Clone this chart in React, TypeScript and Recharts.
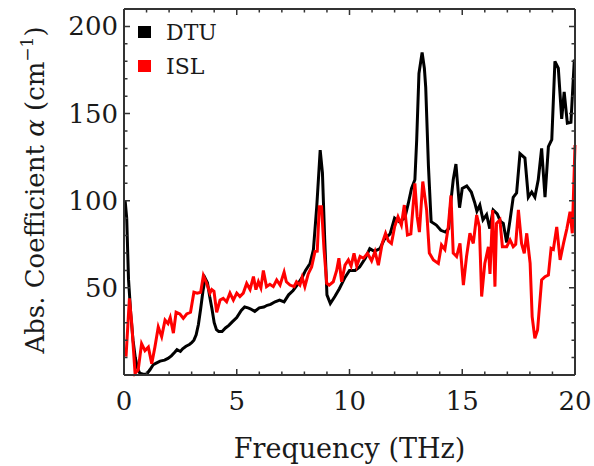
import React from 'react'
import { Legend, Line, LineChart, XAxis, YAxis } from 'recharts'

// DTU curve (frequency in THz, absorption coefficient in cm^-1)
const dtuFreq = [
  0.05, 0.12, 0.2, 0.3, 0.4, 0.5, 0.6, 0.7, 0.85, 1.0, 1.15, 1.3, 1.45, 1.6, 1.8, 1.95, 2.1, 2.25, 2.35,
  2.5, 2.6, 2.75, 2.9, 3.0, 3.1, 3.2, 3.3, 3.4, 3.5, 3.6, 3.7, 3.8, 3.9, 4.0, 4.1, 4.2, 4.35, 4.5, 4.65,
  4.8, 5.0, 5.2, 5.35, 5.5, 5.6, 5.8, 6.0, 6.2, 6.35, 6.5, 6.7, 6.9, 7.1, 7.3, 7.5, 7.7, 7.9, 8.05, 8.25,
  8.4, 8.55, 8.7, 8.8, 8.9, 9.0, 9.15, 9.35, 9.55, 9.8, 10.0, 10.25, 10.45, 10.7, 10.9, 11.1, 11.35,
  11.55, 11.8, 12.0, 12.2, 12.45, 12.6, 12.75, 12.9, 12.98, 13.08, 13.22, 13.32, 13.38, 13.5, 13.62,
  13.85, 14.05, 14.25, 14.4, 14.5, 14.6, 14.72, 14.88, 15.0, 15.2, 15.4, 15.55, 15.65, 15.78, 15.92,
  16.08, 16.22, 16.37, 16.55, 16.7, 16.82, 16.97, 17.12, 17.26, 17.41, 17.56, 17.78, 17.93, 18.08,
  18.22, 18.37, 18.52, 18.67, 18.82, 18.97, 19.11, 19.26, 19.41, 19.52, 19.66, 19.82, 19.97,
]
const dtuAlpha = [
  100, 90, 55, 35, 20, 10, 4, 1, 0.5, 0.5, 3, 6, 7, 8, 8.5, 9.5, 11, 13, 14.5,
  13.5, 15, 16.5, 17.5, 18.5, 20, 23, 29, 38, 48, 55.5, 53, 45, 38, 30, 26, 25, 25, 27, 28.5,
  30.5, 33, 37, 39, 38.5, 38, 36.5, 38.5, 39, 40, 40.5, 42, 43, 42, 46, 48.5, 52, 56, 60, 64,
  72, 97, 129, 116, 78, 46, 41, 45, 49.5, 56, 60, 60, 62, 67, 72.5, 71, 72.5,
  78, 81, 90, 88, 90, 98, 107, 112, 135, 173, 185, 176, 165, 120, 88,
  86, 83, 82, 84, 100, 112, 121, 96, 107, 108.5, 105, 99, 94, 97.5, 89,
  92, 84, 94.7, 92.5, 88, 87, 76, 89, 102, 104.5, 127, 124.5, 102, 105,
  102, 112, 130, 102, 131, 135, 180, 176, 147, 162.5, 144.5, 145, 181,
]

// ISL curve
const islFreq = [
  0.09, 0.24, 0.34, 0.49, 0.63, 0.78, 0.93, 1.08, 1.23, 1.37, 1.52, 1.67, 1.82, 1.95, 2.05, 2.19, 2.31,
  2.48, 2.63, 2.78, 2.95, 3.1, 3.25, 3.4, 3.52, 3.67, 3.81, 3.89, 3.99, 4.11, 4.26, 4.4, 4.55, 4.7, 4.85,
  5.0, 5.14, 5.29, 5.44, 5.59, 5.74, 5.85, 5.96, 6.07, 6.18, 6.32, 6.47, 6.62, 6.77, 6.92, 7.1, 7.2,
  7.36, 7.54, 7.65, 7.8, 7.9, 8.02, 8.17, 8.32, 8.47, 8.57, 8.66, 8.76, 8.87, 8.99, 9.1, 9.28, 9.43,
  9.53, 9.65, 9.8, 9.95, 10.07, 10.2, 10.32, 10.47, 10.62, 10.8, 10.98, 11.13, 11.28, 11.45, 11.6,
  11.72, 11.86, 12.0, 12.15, 12.3, 12.43, 12.57, 12.72, 12.9, 13.0, 13.1, 13.25, 13.42, 13.54, 13.72,
  13.94, 14.08, 14.23, 14.38, 14.5, 14.6, 14.75, 14.9, 15.05, 15.19, 15.34, 15.49, 15.64, 15.76, 15.86,
  16.0, 16.16, 16.23, 16.35, 16.45, 16.52, 16.67, 16.78, 16.97, 17.12, 17.26, 17.37, 17.49, 17.63,
  17.75, 17.86, 18.01, 18.1, 18.22, 18.34, 18.52, 18.67, 18.82, 18.94, 19.04, 19.19, 19.34, 19.49,
  19.64, 19.78, 19.88, 20.0,
]
const islAlpha = [
  10.5, 44, 30, 1, 3, 18, 14, 16, 6.5, 16, 27.5, 22, 31.5, 29.5, 33, 24, 36,
  35, 32.5, 35, 36, 47.5, 47, 47.5, 57, 52.5, 47, 49, 48, 36, 43, 44, 42, 47, 43,
  47, 45, 47, 52.5, 49, 56.5, 49, 53.5, 50, 60, 50.7, 52, 50.7, 54.5, 51.6, 59, 53.5,
  51.6, 50.7, 53.5, 51.6, 56, 50.7, 58, 62, 70.8, 71, 96.6, 96.6, 72, 52.6, 51.6, 53.5, 60,
  67, 53.5, 63, 66, 62.5, 69.8, 62.5, 68, 67, 69.8, 65.5, 70.8, 63, 75.5, 81.3,
  77, 75.5, 85, 90.8, 86, 97.5, 80.3, 81, 110, 91, 82, 111, 94.7, 70, 66,
  64, 74.6, 72, 85, 103, 70, 68, 75.5, 51.6, 68, 81.3, 75.5, 91.8, 85, 45,
  64, 73.5, 58, 94.7, 50.7, 87, 89, 73.6, 73.6, 77.5, 73.6, 75, 94.7, 75.5,
  69.8, 81.3, 64, 33.5, 21, 25.8, 54.5, 56.4, 57.4, 72.7, 72, 85, 66, 75.5,
  84, 93.7, 81.3, 132,
]

const xTicks = [0, 1, 2, 3, 4, 5, 6, 7, 8, 9, 10, 11, 12, 13, 14, 15, 16, 17, 18, 19, 20]
const xLabels = [0, 5, 10, 15, 20]
const yTicks = [10, 20, 30, 40, 50, 60, 70, 80, 90, 100, 110, 120, 130, 140, 150, 160, 170, 180, 190, 200]
const yLabels = [50, 100, 150, 200]

const dtuData = dtuFreq.map((f, i) => ({ freq: f, alpha: dtuAlpha[i] }))
const islData = islFreq.map((f, i) => ({ freq: f, alpha: islAlpha[i] }))

const FONT = '"DejaVu Serif", serif'
const FRAME = '#333'
const TEXT = '#1a1a1a'
const PLOT_W = 451
const PLOT_H = 366

// inward ticks on bottom and mirrored on top; major ones longer and labelled
const XTick = ({ x, y, payload }: any) => {
  const len = xLabels.includes(payload.value) ? 6 : 3.5
  const top = y - PLOT_H
  return (
    <g>
      <path d={`M${x},${y}L${x},${y - len}M${x},${top}L${x},${top + len}`} stroke={FRAME} strokeWidth={1.5} />
      {xLabels.includes(payload.value) && (
        <text x={x} y={y + 35} textAnchor="middle" fontFamily={FONT} fontSize={26} fill={TEXT}>
          {payload.value}
        </text>
      )}
    </g>
  )
}

const YTick = ({ x, y, payload }: any) => {
  const len = yLabels.includes(payload.value) ? 6 : 3.5
  const right = x + PLOT_W
  return (
    <g>
      <path d={`M${x},${y}L${x + len},${y}M${right},${y}L${right - len},${y}`} stroke={FRAME} strokeWidth={1.5} />
      {yLabels.includes(payload.value) && (
        <text x={x - 6} y={y + 9} textAnchor="end" fontFamily={FONT} fontSize={26} fill={TEXT}>
          {payload.value}
        </text>
      )}
    </g>
  )
}

const YTitle = () => (
  <text x={44} y={190} transform="rotate(-90, 44, 190)" textAnchor="middle" fontFamily={FONT} fontSize={26} fill={TEXT}>
    Abs. Coefficient <tspan fontStyle="italic">α</tspan> (cm
    <tspan fontSize={17} dy={-11}>−1</tspan>
    <tspan dy={11}>)</tspan>
  </text>
)

const XTitle = () => (
  <text x={349.5} y={458} textAnchor="middle" fontFamily={FONT} fontSize={27} fill={TEXT}>
    Frequency (THz)
  </text>
)

const LegendBox = ({ payload }: any) => (
  <div style={{ fontFamily: FONT, fontSize: 22, color: TEXT }}>
    {(payload || []).map((p: any) => (
      <div key={p.value} style={{ display: 'flex', alignItems: 'center', height: 34 }}>
        <span style={{ width: 13, height: 12, background: p.color, display: 'inline-block', marginRight: 15 }} />
        <span>{p.value}</span>
      </div>
    ))}
  </div>
)

export default function App() {
  return (
    <div style={{ position: 'absolute', left: 0, top: 0, background: '#fff' }}>
      <LineChart width={594} height={466} margin={{ top: 8, right: 18, left: 0, bottom: 0 }}>
        <XAxis
          xAxisId="bottom"
          dataKey="freq"
          type="number"
          domain={[0, 20]}
          ticks={xTicks}
          interval={0}
          tickSize={0}
          tickMargin={0}
          tickLine={false}
          height={91}
          axisLine={{ stroke: FRAME, strokeWidth: 2 }}
          tick={XTick}
          label={{ content: () => <XTitle /> }}
        />
        <XAxis
          xAxisId="top"
          orientation="top"
          type="number"
          domain={[0, 20]}
          tick={false}
          tickLine={false}
          height={1}
          axisLine={{ stroke: FRAME, strokeWidth: 2 }}
        />
        <YAxis
          yAxisId="left"
          type="number"
          domain={[0, 210]}
          ticks={yTicks}
          interval={0}
          tickSize={0}
          tickMargin={0}
          tickLine={false}
          width={124}
          axisLine={{ stroke: FRAME, strokeWidth: 2 }}
          tick={YTick}
          label={{ content: () => <YTitle /> }}
        />
        <YAxis
          yAxisId="right"
          orientation="right"
          type="number"
          domain={[0, 210]}
          tick={false}
          tickLine={false}
          width={1}
          axisLine={{ stroke: FRAME, strokeWidth: 2 }}
        />
        <Legend
          layout="horizontal"
          verticalAlign="middle"
          align="center"
          content={<LegendBox />}
          wrapperStyle={{ left: 138, top: 15, width: 120 }}
        />
        <Line
          xAxisId="bottom"
          yAxisId="left"
          data={dtuData}
          dataKey="alpha"
          name="DTU"
          type="linear"
          stroke="#000"
          strokeWidth={3}
          dot={false}
          isAnimationActive={false}
        />
        <Line
          xAxisId="bottom"
          yAxisId="left"
          data={islData}
          dataKey="alpha"
          name="ISL"
          type="linear"
          stroke="#ff0000"
          strokeWidth={3}
          dot={false}
          isAnimationActive={false}
        />
      </LineChart>
    </div>
  )
}
